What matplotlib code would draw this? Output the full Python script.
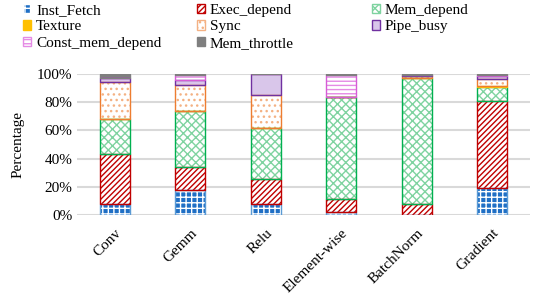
import matplotlib
matplotlib.use("Agg")
import matplotlib.pyplot as plt
import numpy as np
from matplotlib.patches import Patch
from matplotlib.ticker import FuncFormatter

plt.rcParams['font.family'] = ['Liberation Serif', 'DejaVu Serif']
plt.rcParams['hatch.linewidth'] = 1.0

categories = ["Conv", "Gemm", "Relu", "Element-wise", "BatchNorm", "Gradient"]
series = ["Inst_Fetch", "Exec_depend", "Mem_depend", "Texture", "Sync",
          "Pipe_busy", "Const_mem_depend", "Mem_throttle"]
inst_fetch   = [8, 18, 8, 2, 0, 19]
exec_depend  = [35, 16, 17.5, 9, 8, 62]
mem_depend   = [25, 40, 36, 72.5, 89.5, 9.5]
texture      = [0, 0, 0, 0, 0, 1]
sync         = [26, 18, 23.5, 0, 1.2, 5]
pipe_busy    = [3, 4, 15, 0.5, 0.8, 2]
const_mem    = [0, 3, 0, 15, 0, 0.5]
mem_throttle = [3, 1, 0, 1, 0.5, 1]
values = [inst_fetch, exec_depend, mem_depend, texture, sync, pipe_busy, const_mem, mem_throttle]

# (face, hatch colour, hatch, border)
styles = [
    ("#1F6FC5", "white", "+++", "#5B9BD5"),
    ("white", "#C00000", "//////", "#C00000"),
    ("white", "#7FD3A0", "xxxx", "#00B050"),
    ("#FFC000", "#FFC000", "", "#FFC000"),
    ("white", "#F4B183", "...", "#ED7D31"),
    ("#D9C6EA", "#D9C6EA", "", "#7030A0"),
    ("white", "#E58AE5", "----", "#D65CD6"),
    ("#7F7F7F", "#7F7F7F", "", "#7F7F7F"),
]

fig = plt.figure(figsize=(5.46, 3.0), dpi=100)
ax = fig.add_axes([77/546, 1 - 215/300, (530-77)/546, (215-74)/300])

x = np.arange(len(categories))
w = 0.4
bottom = np.zeros(len(categories))
for vals, (face, hc, hatch, border) in zip(values, styles):
    v = np.array(vals, dtype=float) / 100.0
    ax.bar(x, v, w, bottom=bottom, color=face, edgecolor=hc, hatch=hatch, linewidth=0, zorder=3)
    ax.bar(x, v, w, bottom=bottom, fill=False, edgecolor=border, linewidth=1.0, zorder=4)
    bottom += v

ax.set_xlim(-0.5, len(categories) - 0.5)
ax.set_ylim(0, 1.0)
ax.set_yticks(np.linspace(0, 1, 6))
ax.yaxis.set_major_formatter(FuncFormatter(lambda y, p: f"{y*100:.0f}%"))
ax.grid(axis='y', color='#D9D9D9', linewidth=1.5, zorder=0)
ax.set_axisbelow(True)
for s in ax.spines.values():
    s.set_visible(False)
ax.tick_params(length=0, labelsize=11)
ax.set_xticks(x)
ax.set_xticklabels(categories, rotation=45, ha='right', rotation_mode='anchor', fontsize=11)
ax.tick_params(axis='x', pad=8)
ax.set_ylabel("Percentage", fontsize=11)
ax.yaxis.set_label_coords(-0.115, 0.5)

handles = []
for name, (face, hc, hatch, border) in zip(series, styles):
    handles.append(Patch(facecolor=face, edgecolor=border if hatch == "" else hc,
                         hatch=hatch, label=name, linewidth=1))

col_x = [23/546, 197/546, 372/546]
for c in range(3):
    hs = handles[c::3]
    fig.legend(handles=hs, ncol=1, loc='upper left', bbox_to_anchor=(col_x[c], 1 - 4/300),
               frameon=False, fontsize=11, handlelength=0.55, handleheight=0.55,
               handletextpad=0.3, labelspacing=0.22, borderpad=0, borderaxespad=0)

fig.savefig("out.png", dpi=100)
